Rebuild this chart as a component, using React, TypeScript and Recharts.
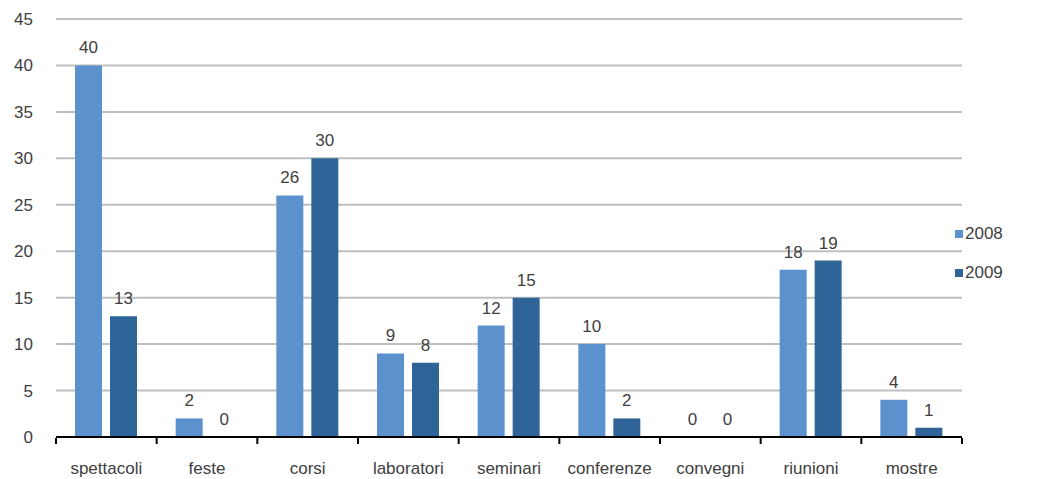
import React from "react";
import { BarChart, Bar, XAxis, YAxis, CartesianGrid, Legend, LabelList } from "recharts";

const categories = ["spettacoli", "feste", "corsi", "laboratori", "seminari", "conferenze", "convegni", "riunioni", "mostre"];
const values2008 = [40, 2, 26, 9, 12, 10, 0, 18, 4];
const values2009 = [13, 0, 30, 8, 15, 2, 0, 19, 1];
const yTicks = [0, 5, 10, 15, 20, 25, 30, 35, 40, 45];

const data = categories.map((c, i) => ({ name: c, y2008: values2008[i], y2009: values2009[i] }));

const W = 1051;
const H = 479;
const LEFT = 56;
const RIGHT = 89;
const BAND = (W - LEFT - RIGHT) / categories.length;
const FONT = "'Liberation Sans', Arial, sans-serif";
const TEXT = "#404040";
const C2008 = "#5B92CD";
const C2009 = "#2F6499";
const FS = 17;

const XTick = (props: any) => {
  const { x, y, payload, index } = props;
  const half = BAND / 2;
  return (
    <g>
      <line x1={x - half} x2={x - half} y1={y - 1} y2={y + 5} stroke="#000" strokeWidth={2} />
      {index === categories.length - 1 && (
        <line x1={x + half} x2={x + half} y1={y - 1} y2={y + 5} stroke="#000" strokeWidth={2} />
      )}
      <text x={x} y={y + 35} textAnchor="middle" fontSize={FS} fill={TEXT} fontFamily={FONT}>
        {payload.value}
      </text>
    </g>
  );
};

const LegendContent = () => (
  <div style={{ fontFamily: FONT, fontSize: 17, color: TEXT }}>
    {[
      ["2008", C2008],
      ["2009", C2009],
    ].map(([label, color]) => (
      <div key={label} style={{ display: "flex", alignItems: "center", height: 39 }}>
        <span style={{ display: "inline-block", width: 8, height: 8, background: color, marginRight: 2 }} />
        <span>{label}</span>
      </div>
    ))}
  </div>
);

export default function App() {
  return (
    <div style={{ position: "absolute", left: 0, top: 0, width: W, height: H, background: "#fff" }}>
      <BarChart
        width={W}
        height={H}
        data={data}
        margin={{ top: 19, right: RIGHT, bottom: 0, left: 0 }}
        barGap={8}
        barCategoryGap={19}
      >
        <CartesianGrid vertical={false} stroke="#BFBFBF" strokeWidth={2} />
        <YAxis
          width={LEFT}
          domain={[0, 45]}
          ticks={yTicks}
          axisLine={false}
          tickLine={false}
          tickSize={0}
          tickMargin={23}
          tick={{ fontSize: FS, fill: TEXT, fontFamily: FONT }}
          interval={0}
        />
        <XAxis
          dataKey="name"
          height={42}
          axisLine={{ stroke: "#000", strokeWidth: 2 }}
          tickLine={false}
          tickSize={0}
          interval={0}
          tick={<XTick />}
        />
        <Legend
          layout="vertical"
          align="center"
          verticalAlign="middle"
          content={<LegendContent />}
          wrapperStyle={{ position: "absolute", left: 955, top: 214, width: 96 }}
        />
        <Bar dataKey="y2008" name="2008" fill={C2008} barSize={27} minPointSize={0.01} isAnimationActive={false}>
          <LabelList dataKey="y2008" position="top" offset={12} style={{ fontSize: FS, fill: TEXT, fontFamily: FONT }} />
        </Bar>
        <Bar dataKey="y2009" name="2009" fill={C2009} barSize={27} minPointSize={0.01} isAnimationActive={false}>
          <LabelList dataKey="y2009" position="top" offset={12} style={{ fontSize: FS, fill: TEXT, fontFamily: FONT }} />
        </Bar>
      </BarChart>
    </div>
  );
}
